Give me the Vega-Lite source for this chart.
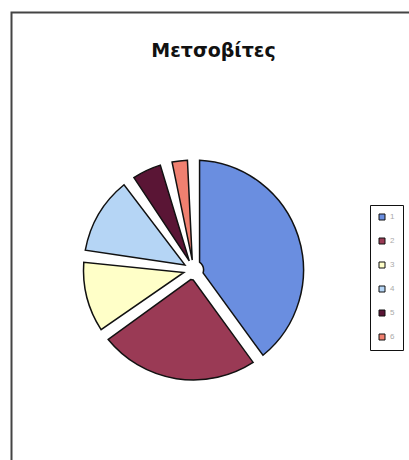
{
  "$schema": "https://vega.github.io/schema/vega-lite/v6.json",
  "width": 420,
  "height": 507,
  "padding": {"left": 11.5, "top": 12.5, "right": 0, "bottom": 0},
  "autosize": {"type": "none"},
  "background": "white",
  "view": {"stroke": "#444444", "strokeWidth": 2},
  "title": {
    "text": "Μετσοβίτες",
    "font": "DejaVu Sans",
    "fontSize": 19,
    "fontWeight": "bold",
    "color": "#111111",
    "anchor": "middle",
    "frame": "group",
    "offset": -48,
    "dx": -8
  },
  "data": {
    "values": [
      {"k": "1", "v": 40},
      {"k": "2", "v": 25},
      {"k": "3", "v": 12},
      {"k": "4", "v": 13},
      {"k": "5", "v": 6},
      {"k": "6", "v": 4}
    ]
  },
  "mark": {
    "type": "arc",
    "outerRadius": 110,
    "innerRadius": 10,
    "padAngle": 0.11,
    "stroke": "#111111",
    "strokeWidth": 1.5,
    "xOffset": -28,
    "yOffset": 4
  },
  "encoding": {
    "theta": {"field": "v", "type": "quantitative", "stack": true},
    "order": {"field": "k", "type": "ordinal"},
    "color": {
      "field": "k",
      "type": "nominal",
      "scale": {
        "domain": ["1", "2", "3", "4", "5", "6"],
        "range": ["#6a8ee0", "#9a3a55", "#ffffc8", "#b5d5f5", "#5a1535", "#f08070"]
      },
      "legend": {
        "title": null,
        "orient": "none",
        "legendX": 358.5,
        "legendY": 192.5,
        "padding": 8,
        "strokeColor": "#111111",
        "symbolType": "square",
        "symbolSize": 36,
        "symbolStrokeColor": "#111111",
        "symbolStrokeWidth": 1,
        "symbolOpacity": 1,
        "labelColor": "#aaaaaa",
        "labelFontSize": 8,
        "labelOffset": 4,
        "rowPadding": 14
      }
    }
  },
  "config": {
    "view": {"stroke": "#444444", "strokeWidth": 2}
  }
}
